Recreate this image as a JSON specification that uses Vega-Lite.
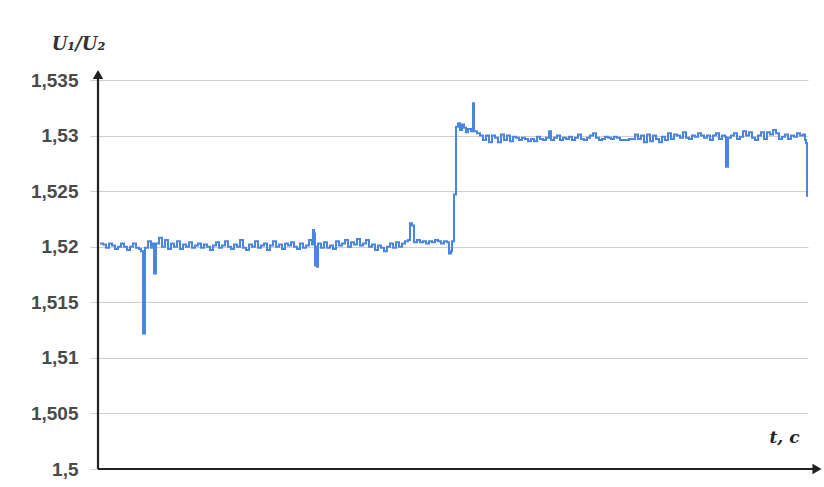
{
  "$schema": "https://vega.github.io/schema/vega-lite/v6.json",
  "width": 710,
  "height": 389,
  "autosize": {"type": "none"},
  "padding": {"left": 98, "top": 80, "right": 16, "bottom": 18},
  "background": "white",
  "config": {"view": {"stroke": null}},
  "datasets": {
    "series": [
      {"t":2,"v":1.5203},{"t":5,"v":1.5202},{"t":8,"v":1.5199},{"t":11,"v":1.5203},{"t":14,"v":1.5201},{"t":17,"v":1.5198},{"t":20,"v":1.52},{"t":23,"v":1.5203},{"t":26,"v":1.52},{"t":29,"v":1.5197},{"t":32,"v":1.52},{"t":35,"v":1.5203},{"t":38,"v":1.5199},{"t":41,"v":1.5198},{"t":43,"v":1.5196},{"t":45,"v":1.5122},{"t":47,"v":1.5199},{"t":50,"v":1.5205},{"t":53,"v":1.5199},{"t":55,"v":1.5203},{"t":56,"v":1.5176},{"t":58,"v":1.5203},{"t":61,"v":1.5208},{"t":64,"v":1.52},{"t":67,"v":1.5206},{"t":70,"v":1.5198},{"t":73,"v":1.5203},{"t":76,"v":1.52},{"t":79,"v":1.5205},{"t":82,"v":1.5198},{"t":85,"v":1.5202},{"t":88,"v":1.52},{"t":91,"v":1.5204},{"t":94,"v":1.5199},{"t":97,"v":1.5201},{"t":100,"v":1.5203},{"t":103,"v":1.5199},{"t":106,"v":1.5202},{"t":109,"v":1.52},{"t":112,"v":1.5197},{"t":115,"v":1.5201},{"t":118,"v":1.5204},{"t":121,"v":1.5199},{"t":124,"v":1.5201},{"t":127,"v":1.5205},{"t":130,"v":1.52},{"t":133,"v":1.5198},{"t":136,"v":1.5202},{"t":139,"v":1.52},{"t":142,"v":1.5206},{"t":145,"v":1.5199},{"t":148,"v":1.5197},{"t":151,"v":1.5202},{"t":154,"v":1.52},{"t":157,"v":1.5205},{"t":160,"v":1.5199},{"t":163,"v":1.5201},{"t":166,"v":1.5203},{"t":169,"v":1.5197},{"t":172,"v":1.5201},{"t":175,"v":1.5205},{"t":178,"v":1.52},{"t":181,"v":1.5202},{"t":184,"v":1.5198},{"t":187,"v":1.5203},{"t":190,"v":1.5201},{"t":193,"v":1.5204},{"t":196,"v":1.52},{"t":199,"v":1.5198},{"t":202,"v":1.5203},{"t":205,"v":1.5199},{"t":208,"v":1.5201},{"t":211,"v":1.5206},{"t":214,"v":1.5202},{"t":215,"v":1.5215},{"t":216,"v":1.5212},{"t":217,"v":1.5183},{"t":218,"v":1.52},{"t":219,"v":1.5182},{"t":220,"v":1.5203},{"t":223,"v":1.5199},{"t":226,"v":1.5204},{"t":229,"v":1.5199},{"t":232,"v":1.5201},{"t":235,"v":1.5198},{"t":238,"v":1.5205},{"t":241,"v":1.5201},{"t":244,"v":1.5203},{"t":247,"v":1.5206},{"t":250,"v":1.52},{"t":253,"v":1.5204},{"t":256,"v":1.5202},{"t":259,"v":1.5207},{"t":262,"v":1.5201},{"t":265,"v":1.5203},{"t":268,"v":1.5206},{"t":271,"v":1.52},{"t":274,"v":1.5202},{"t":277,"v":1.5197},{"t":280,"v":1.5201},{"t":283,"v":1.5199},{"t":286,"v":1.5196},{"t":289,"v":1.52},{"t":292,"v":1.5203},{"t":295,"v":1.5199},{"t":298,"v":1.5204},{"t":301,"v":1.52},{"t":304,"v":1.5203},{"t":307,"v":1.5205},{"t":310,"v":1.5206},{"t":312,"v":1.5221},{"t":314,"v":1.5219},{"t":316,"v":1.5204},{"t":319,"v":1.5206},{"t":322,"v":1.5204},{"t":325,"v":1.5205},{"t":328,"v":1.5203},{"t":331,"v":1.5205},{"t":334,"v":1.5204},{"t":337,"v":1.5206},{"t":340,"v":1.5205},{"t":343,"v":1.5203},{"t":346,"v":1.5205},{"t":349,"v":1.5204},{"t":351,"v":1.5194},{"t":353,"v":1.5196},{"t":354,"v":1.5205},{"t":356,"v":1.5247},{"t":358,"v":1.5308},{"t":360,"v":1.5311},{"t":362,"v":1.5305},{"t":364,"v":1.531},{"t":366,"v":1.5307},{"t":368,"v":1.5303},{"t":370,"v":1.5306},{"t":373,"v":1.5304},{"t":375,"v":1.5329},{"t":376,"v":1.5304},{"t":379,"v":1.5302},{"t":382,"v":1.53},{"t":385,"v":1.5296},{"t":388,"v":1.53},{"t":391,"v":1.5294},{"t":394,"v":1.53},{"t":397,"v":1.5298},{"t":400,"v":1.5294},{"t":403,"v":1.5301},{"t":406,"v":1.5296},{"t":409,"v":1.53},{"t":412,"v":1.5295},{"t":415,"v":1.5299},{"t":418,"v":1.5298},{"t":421,"v":1.5296},{"t":424,"v":1.5298},{"t":427,"v":1.5297},{"t":430,"v":1.5295},{"t":433,"v":1.5297},{"t":436,"v":1.5295},{"t":439,"v":1.5299},{"t":442,"v":1.5297},{"t":445,"v":1.5296},{"t":448,"v":1.5298},{"t":451,"v":1.5304},{"t":453,"v":1.5296},{"t":456,"v":1.5298},{"t":459,"v":1.53},{"t":462,"v":1.5296},{"t":465,"v":1.5298},{"t":468,"v":1.5297},{"t":471,"v":1.5299},{"t":474,"v":1.5296},{"t":477,"v":1.5298},{"t":480,"v":1.5301},{"t":483,"v":1.5297},{"t":486,"v":1.5296},{"t":489,"v":1.5298},{"t":492,"v":1.53},{"t":495,"v":1.5302},{"t":498,"v":1.5298},{"t":501,"v":1.5296},{"t":504,"v":1.5297},{"t":507,"v":1.5299},{"t":510,"v":1.5298},{"t":513,"v":1.5297},{"t":516,"v":1.5299},{"t":519,"v":1.5298},{"t":522,"v":1.5296},{"t":525,"v":1.5296},{"t":528,"v":1.5296},{"t":531,"v":1.5297},{"t":534,"v":1.5297},{"t":537,"v":1.5301},{"t":540,"v":1.5297},{"t":543,"v":1.53},{"t":546,"v":1.5294},{"t":549,"v":1.5301},{"t":552,"v":1.5295},{"t":555,"v":1.53},{"t":558,"v":1.5297},{"t":561,"v":1.5294},{"t":564,"v":1.5299},{"t":567,"v":1.5296},{"t":570,"v":1.5302},{"t":573,"v":1.5297},{"t":576,"v":1.5301},{"t":579,"v":1.53},{"t":582,"v":1.5298},{"t":585,"v":1.5303},{"t":588,"v":1.5298},{"t":591,"v":1.5297},{"t":594,"v":1.53},{"t":597,"v":1.5299},{"t":600,"v":1.5302},{"t":603,"v":1.53},{"t":606,"v":1.5298},{"t":609,"v":1.53},{"t":612,"v":1.5296},{"t":615,"v":1.53},{"t":618,"v":1.5302},{"t":621,"v":1.5297},{"t":624,"v":1.53},{"t":627,"v":1.5299},{"t":628,"v":1.5272},{"t":630,"v":1.5298},{"t":633,"v":1.53},{"t":636,"v":1.5302},{"t":639,"v":1.5297},{"t":642,"v":1.5299},{"t":645,"v":1.5304},{"t":648,"v":1.53},{"t":651,"v":1.5303},{"t":654,"v":1.5298},{"t":657,"v":1.5296},{"t":660,"v":1.53},{"t":663,"v":1.5303},{"t":666,"v":1.5297},{"t":669,"v":1.5303},{"t":672,"v":1.5301},{"t":675,"v":1.5305},{"t":678,"v":1.5302},{"t":681,"v":1.5297},{"t":684,"v":1.5299},{"t":687,"v":1.5301},{"t":690,"v":1.5297},{"t":693,"v":1.53},{"t":696,"v":1.5299},{"t":699,"v":1.5302},{"t":702,"v":1.53},{"t":705,"v":1.5301},{"t":707,"v":1.5296},{"t":708,"v":1.5293},{"t":709,"v":1.5245}
    ],
    "axes": [
      {"t": 0, "v": 1.5, "t2": 0, "v2": 1.5352},
      {"t": 0, "v": 1.5, "t2": 716, "v2": 1.5}
    ],
    "arrows": [
      {"t": 0, "v": 1.5355, "shape": "triangle-up"},
      {"t": 719, "v": 1.5, "shape": "triangle-right"}
    ]
  },
  "layer": [
    {
      "data": {"name": "series"},
      "mark": {"type": "line", "color": "#4a86e0", "strokeWidth": 2, "interpolate": "step-after"},
      "encoding": {
        "x": {"field": "t", "type": "quantitative",
              "scale": {"domain": [0, 710], "nice": false, "zero": false},
              "axis": {"title": "t, c", "labels": false, "ticks": false, "grid": false, "domain": false,
                       "titleFont": "DejaVu Serif", "titleFontStyle": "italic", "titleFontWeight": "bold",
                       "titleFontSize": 17, "titleColor": "#222", "titleX": 686, "titleY": -40}},
        "y": {"field": "v", "type": "quantitative",
              "scale": {"domain": [1.5, 1.535], "nice": false, "zero": false},
              "axis": {"title": "U₁/U₂", "titleAngle": 0, "titleFont": "DejaVu Serif", "titleFontStyle": "italic",
                       "titleFontWeight": "bold", "titleFontSize": 18, "titleColor": "#333",
                       "titleX": -20, "titleY": -36, "titleAlign": "center", "titleBaseline": "middle",
                       "values": [1.5, 1.505, 1.51, 1.515, 1.52, 1.525, 1.53, 1.535],
                       "labelExpr": "replace(format(datum.value, '.3~f'), '.', ',')",
                       "labelFont": "Liberation Sans", "labelFontSize": 19, "labelFontWeight": "bold",
                       "labelColor": "#4a4a4a", "labelPadding": 12,
                       "domain": false, "ticks": true, "tickSize": 8, "tickColor": "#cfcfcf",
                       "grid": true, "gridColor": "#cfcfcf", "gridWidth": 1.2}}
      }
    },
    {
      "data": {"name": "axes"},
      "mark": {"type": "rule", "color": "#222", "strokeWidth": 2.2},
      "encoding": {
        "x": {"field": "t", "type": "quantitative"},
        "y": {"field": "v", "type": "quantitative"},
        "x2": {"field": "t2"},
        "y2": {"field": "v2"}
      }
    },
    {
      "data": {"name": "arrows"},
      "mark": {"type": "point", "filled": true, "color": "#222", "size": 110, "opacity": 1},
      "encoding": {
        "x": {"field": "t", "type": "quantitative"},
        "y": {"field": "v", "type": "quantitative"},
        "shape": {"field": "shape", "type": "nominal", "scale": null, "legend": null}
      }
    }
  ]
}
